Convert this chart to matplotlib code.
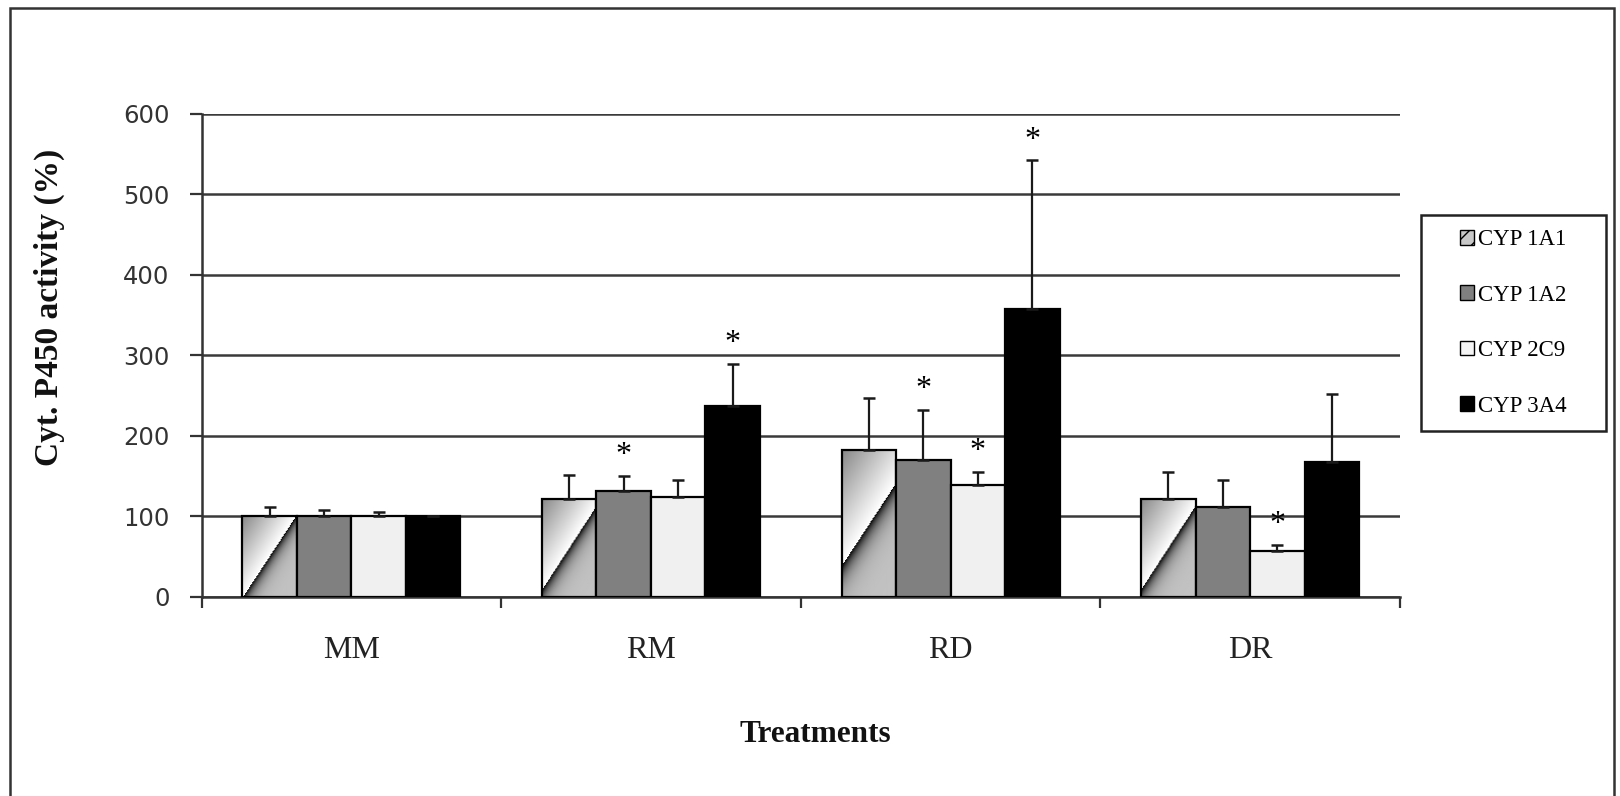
import numpy as np
import matplotlib
matplotlib.use('Agg')
import matplotlib.pyplot as plt
from matplotlib.patches import Rectangle, Patch

# ---------------- data ----------------
categories = ['MM', 'RM', 'RD', 'DR']
series_names = ['CYP 1A1', 'CYP 1A2', 'CYP 2C9', 'CYP 3A4']
cyp1a1 = [100, 122, 182, 122]
cyp1a2 = [100, 132, 170, 112]
cyp2c9 = [100, 124, 139, 57]
cyp3a4 = [100, 237, 357, 168]
cyp1a1_err = [12, 30, 65, 33]
cyp1a2_err = [8, 18, 62, 33]
cyp2c9_err = [5, 21, 16, 8]
cyp3a4_err = [0, 52, 185, 84]
cyp1a1_sig = [False, False, False, False]
cyp1a2_sig = [False, True, True, False]
cyp2c9_sig = [False, False, True, True]
cyp3a4_sig = [False, True, True, False]
yticks = [0, 100, 200, 300, 400, 500, 600]
ylabel = 'Cyt. P450 activity (%)'
xlabel = 'Treatments'

values = [cyp1a1, cyp1a2, cyp2c9, cyp3a4]
errors = [cyp1a1_err, cyp1a2_err, cyp2c9_err, cyp3a4_err]
sigs = [cyp1a1_sig, cyp1a2_sig, cyp2c9_sig, cyp3a4_sig]

SERIF = 'Liberation Serif'
W, H = 1620, 796
fig = plt.figure(figsize=(W / 100, H / 100), dpi=100)
fig.patch.set_facecolor('white')

ax = fig.add_axes([201.5 / W, 199 / H, (1400 - 201.5) / W, (597 - 113.7) / H])
ax.set_xlim(0, 4)
ax.set_ylim(0, 600)

n_series = len(values)
bw = 1 / 5.5
x = np.arange(len(categories)) + 0.5

face = [None, '#808080', '#f0f0f0', '#000000']
for j in range(n_series):
    pos = x + (j - 1.5) * bw
    if j == 0:
        bars = ax.bar(pos, values[j], width=bw, facecolor='none', edgecolor='black',
                      linewidth=1.6, zorder=3)
        # diagonal gradient fill (grey -> white | black -> light grey)
        p0 = ax.transData.transform((0, 0))
        p1 = ax.transData.transform((1, 1))
        pxx, pxy = p1[0] - p0[0], p1[1] - p0[1]
        for r in bars:
            x0, w, h = r.get_x(), r.get_width(), r.get_height()
            nx = max(int(round(w * pxx)), 2)
            ny = max(int(round(h * pxy)), 2)
            X, Y = np.meshgrid(np.arange(nx) - nx / 2, np.arange(ny) - ny / 2)
            k = 1.55
            d = (X * k - Y)
            dc = (nx / 2 * k + ny / 2)
            t = d / dc
            v = np.where(t <= 0, 1 - 0.47 * np.abs(t) ** 1.0,
                         0.02 + 0.74 * (1 - np.exp(-np.abs(t) / 0.13)))
            ax.imshow(v, extent=(x0, x0 + w, 0, h), origin='lower', aspect='auto',
                      cmap='gray', vmin=0, vmax=1, zorder=2.5, interpolation='bilinear')
    else:
        ax.bar(pos, values[j], width=bw, facecolor=face[j], edgecolor='black',
               linewidth=1.6, zorder=3)
    ax.errorbar(pos, values[j], yerr=[np.zeros(len(categories)), errors[j]], fmt='none',
                ecolor='#1a1a1a', elinewidth=1.6, capsize=4.5, capthick=1.8, zorder=4)
    for i in range(len(categories)):
        if sigs[j][i]:
            ax.text(pos[i], values[j][i] + errors[j][i] + 16, '*', ha='center',
                    va='baseline', fontsize=23, family=SERIF, color='black', zorder=5)

ax.set_xlim(0, 4)
ax.set_ylim(0, 600)
ax.set_yticks(yticks)
ax.yaxis.grid(True, color='#3a3a3a', linewidth=1.8)
ax.set_axisbelow(True)
for s in ['top', 'right']:
    ax.spines[s].set_visible(False)
for s in ['left', 'bottom']:
    ax.spines[s].set_color('#333333')
    ax.spines[s].set_linewidth(1.8)

ax.set_xticks(np.arange(len(categories) + 1))
ax.set_xticklabels([])
ax.set_xticks(x, minor=True)
ax.set_xticklabels(categories, minor=True)
ax.tick_params(axis='x', which='major', direction='out', length=8, width=1.6, color='#333333')
ax.tick_params(axis='x', which='minor', length=0, pad=28, labelsize=23, labelcolor='#222222')
ax.tick_params(axis='y', direction='out', length=9, width=1.6, color='#333333',
               pad=14, labelsize=17.5, labelcolor='#333333')
for lab in ax.get_xticklabels(minor=True):
    lab.set_family(SERIF)
for lab in ax.get_yticklabels():
    lab.set_family('DejaVu Sans')

fig.text(49 / W, 1 - 307 / H, ylabel, rotation=90, ha='center', va='center',
         fontsize=24, fontweight='bold', family=SERIF, color='#111111')
fig.text(815 / W, 1 - 735 / H, xlabel, ha='center', va='center',
         fontsize=22.5, fontweight='bold', family=SERIF, color='#111111')

# legend
handles = [Patch(facecolor='#c8c8c8', edgecolor='black', hatch='//', linewidth=1.0),
           Patch(facecolor='#808080', edgecolor='black', linewidth=1.0),
           Patch(facecolor='#f4f4f4', edgecolor='black', linewidth=1.0),
           Patch(facecolor='#000000', edgecolor='black', linewidth=1.0)]
fig.patches.append(Rectangle((1421 / W, 1 - 431 / H), (1606 - 1421) / W, (431 - 215) / H,
                             transform=fig.transFigure, facecolor='white', edgecolor='#222222',
                             linewidth=1.8, zorder=1))
leg = fig.legend(handles, series_names, loc='center', bbox_to_anchor=((1421 + 1606) / 2 / W, 1 - 323 / H),
                 frameon=False, prop={'family': SERIF, 'size': 16.5}, handlelength=0.6,
                 handleheight=0.6, handletextpad=0.2, labelspacing=1.5)
leg.set_zorder(3)

# outer chart border
fig.patches.append(Rectangle((9.5 / W, -0.02), (1614 - 9.5) / W, 1.02 - 8 / H,
                             transform=fig.transFigure, facecolor='none', edgecolor='#333333',
                             linewidth=1.8, zorder=0))

fig.savefig('out.png', dpi=100, facecolor='white')
